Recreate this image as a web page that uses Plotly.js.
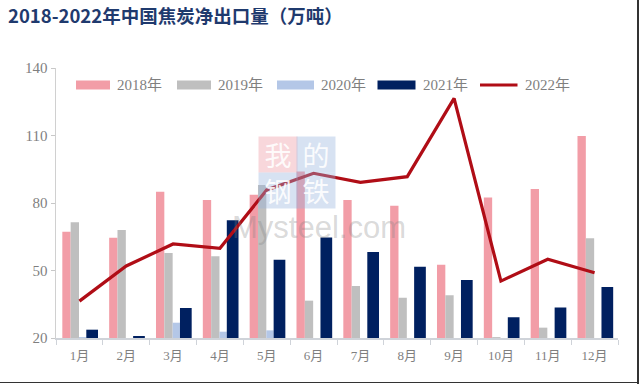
<!DOCTYPE html>
<html>
<head>
<meta charset="utf-8">
<script src="https://cdn.plot.ly/plotly-3.0.1.min.js"></script>
<style>
  html, body { margin: 0; padding: 0; background: #fff; }
  #wrap { position: relative; width: 640px; height: 384px; overflow: hidden; }
  #chart { position: absolute; left: 0; top: 0; width: 640px; height: 384px; }
  .bR { position: absolute; left: 637px; top: 0; width: 2px; height: 384px; background: #333; }
  .bB { position: absolute; left: 0; top: 382px; width: 639px; height: 1px; background: #333; }
</style>
</head>
<body>
<div id="wrap">
  <div id="chart"></div>
  <div class="bR"></div>
  <div class="bB"></div>
</div>
<script>
// ---- data (万吨) ----
const months = ['1月','2月','3月','4月','5月','6月','7月','8月','9月','10月','11月','12月'];
const y2018 = [67.2, 64.6, 85.0, 81.3, 83.7, 94.0, 81.3, 78.8, 52.6, 82.5, 86.2, 109.8];
const y2019 = [71.4, 68.0, 57.8, 56.3, 88.0, 36.6, 43.1, 37.9, 39.0, 20.4, 24.6, 64.3];
const y2020 = [20.4, 19.0, 26.8, 22.8, 23.4, 17.0, 15.0, 14.0, 16.0, 19.0, 18.0, 17.0];
const y2021 = [23.7, 20.9, 33.3, 72.3, 54.8, 64.7, 58.2, 51.7, 45.8, 29.2, 33.6, 42.7];
const y2022 = [36.4, 52.0, 61.8, 59.9, 85.8, 93.2, 89.2, 91.7, 126.5, 45.3, 55.0, 49.0];
const seriesNames = ['2018年','2019年','2020年','2021年','2022年'];
const yTicks = [20, 50, 80, 110, 140];
const titleText = '2018-2022年中国焦炭净出口量（万吨）';

// ---- styles ----
const colors = ['#F29DA7', '#BFBFBF', '#B4C7E7', '#002060', '#B00D16'];
const offsets = [-0.365, -0.187, -0.009, 0.147];
const widths  = [0.178, 0.178, 0.156, 0.25];
const serif = 'Liberation Serif, "Noto Sans CJK SC", serif';
const txtGray = '#7F7F7F';

const barData = [y2018, y2019, y2020, y2021];
const traces = barData.map((ys, i) => ({
  type: 'bar', x: months, y: ys, name: seriesNames[i],
  marker: { color: colors[i] },
  offset: months.map(() => offsets[i]),
  width: months.map(() => widths[i]),
  hoverinfo: 'x+y+name'
}));
traces.push({
  type: 'scatter', mode: 'lines', x: months, y: y2022, name: seriesNames[4],
  line: { color: colors[4], width: 3.2 }
});

// plot area in pixels
const L = 56, R = 618, T = 68, B = 338;
const px = v => (v - L) / (R - L);
const py = v => (B - v) / (B - T);

// custom legend
const legSw = [[76,110],[177,211],[277,314],[377.5,415.5],[480,517.5]];
const shapes = [];
const annotations = [];
legSw.forEach((s, i) => {
  if (i < 4) {
    shapes.push({ type: 'rect', xref: 'paper', yref: 'paper',
      x0: px(s[0]), x1: px(s[1]), y0: py(89.5), y1: py(80.5),
      fillcolor: colors[i], line: { width: 0 } });
  } else {
    shapes.push({ type: 'line', xref: 'paper', yref: 'paper',
      x0: px(s[0]), x1: px(s[1]), y0: py(85), y1: py(85),
      line: { color: colors[i], width: 3.2 } });
  }
  annotations.push({ xref: 'paper', yref: 'paper', x: px(s[1] + 5), y: py(85.5),
    xanchor: 'left', yanchor: 'middle', showarrow: false, text: seriesNames[i],
    font: { family: serif, size: 15, color: txtGray } });
});

// watermark
const wm = [
  { t: '我', x: 278, y: 154, c: 'rgba(236,150,160,0.38)' },
  { t: '的', x: 316, y: 154, c: 'rgba(150,180,220,0.38)' },
  { t: '钢', x: 278, y: 190, c: 'rgba(150,180,220,0.38)' },
  { t: '铁', x: 316, y: 190, c: 'rgba(150,180,220,0.38)' }
];
wm.forEach(w => {
  annotations.push({ xref: 'paper', yref: 'paper', x: px(w.x), y: py(w.y),
    xanchor: 'center', yanchor: 'middle', showarrow: false, text: w.t,
    width: 36, height: 33, bgcolor: w.c,
    font: { family: '"Noto Sans CJK SC", sans-serif', size: 27, color: 'rgba(255,255,255,0.9)' } });
});
annotations.push({ xref: 'paper', yref: 'paper', x: px(319), y: py(227),
  xanchor: 'center', yanchor: 'middle', showarrow: false, text: 'Mysteel.com',
  font: { family: 'Liberation Sans, sans-serif', size: 31, color: 'rgba(128,128,128,0.30)' } });

const layout = {
  width: 640, height: 384,
  margin: { l: L, r: 640 - R, t: T, b: 384 - B, pad: 0 },
  paper_bgcolor: '#fff', plot_bgcolor: '#fff',
  showlegend: false,
  barmode: 'overlay',
  title: { text: titleText, x: 8 / 640, xanchor: 'left', xref: 'container',
    y: 1 - 17 / 384, yanchor: 'middle', yref: 'container',
    font: { family: '"Noto Sans CJK SC", sans-serif', size: 18.5, weight: 700, color: '#1F3A6E' } },
  xaxis: {
    type: 'category', range: [-0.5, 11.5], tickson: 'boundaries',
    ticks: 'outside', ticklen: 5, tickcolor: '#CFD3D9', tickwidth: 1,
    ticklabelstandoff: 5,
    showline: true, linecolor: '#CFD3D9', linewidth: 1.5,
    showgrid: false, zeroline: false,
    tickfont: { family: serif, size: 13, color: txtGray }
  },
  yaxis: {
    range: [20, 140], tickvals: yTicks, ticktext: yTicks.map(String),
    ticks: 'outside', ticklen: 4, tickcolor: '#C8C8C8', tickwidth: 1,
    showline: true, linecolor: '#D0D0D0', linewidth: 1.5,
    showgrid: false, zeroline: false,
    tickfont: { family: serif, size: 15, color: txtGray }
  },
  shapes: shapes,
  annotations: annotations
};

Plotly.newPlot('chart', traces, layout, { displayModeBar: false, staticPlot: true });
</script>
</body>
</html>
